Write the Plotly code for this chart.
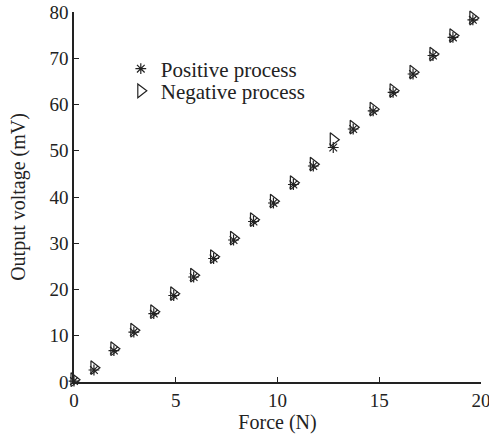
import plotly.graph_objects as go

force = [0, 0.98, 1.96, 2.94, 3.92, 4.9, 5.88, 6.86, 7.84, 8.82, 9.8,
         10.78, 11.76, 12.74, 13.72, 14.7, 15.68, 16.66, 17.64, 18.62, 19.6]
positive_mv = [0.2, 2.6, 6.8, 10.8, 14.8, 18.7, 22.7, 26.7, 30.7, 34.7, 38.7,
               42.7, 46.7, 50.7, 54.7, 58.6, 62.6, 66.6, 70.6, 74.5, 78.3]
negative_mv = [0.5, 3.1, 7.2, 11.2, 15.2, 19.1, 23.1, 27.1, 31.1, 35.1, 39.1,
               43.1, 47.1, 52.4, 55.1, 59.0, 63.0, 67.0, 70.9, 74.9, 78.7]

x_ticks = [0, 5, 10, 15, 20]
y_ticks = [0, 10, 20, 30, 40, 50, 60, 70, 80]

ink = "#222222"
font = "Liberation Serif, Times New Roman, serif"

fig = go.Figure()
fig.add_trace(go.Scatter(
    x=force, y=positive_mv, mode="markers", name="Positive process",
    marker=dict(symbol="asterisk-open", size=9, color=ink,
                line=dict(color=ink, width=1.2)),
    cliponaxis=False, legend="legend",
))
fig.add_trace(go.Scatter(
    x=force, y=negative_mv, mode="markers", name="Negative process",
    marker=dict(symbol="triangle-right-open", size=12, color=ink,
                line=dict(color=ink, width=1.2)),
    cliponaxis=False, legend="legend2",
))

axis_common = dict(
    showline=True, linecolor=ink, linewidth=1.5, ticks="inside", ticklen=5,
    tickcolor=ink, tickwidth=1.2, showgrid=False, zeroline=False,
    tickfont=dict(family=font, size=19, color=ink),
    mirror=False, ticklabeloverflow="allow", automargin=True,
)

legend_common = dict(xanchor="left", yanchor="middle", bgcolor="rgba(0,0,0,0)",
                     font=dict(family=font, size=21, color=ink), itemsizing="trace")

fig.update_layout(
    width=489, height=446,
    margin=dict(l=74, r=8, t=12, b=64, autoexpand=False),
    paper_bgcolor="white", plot_bgcolor="white",
    font=dict(family=font, size=20, color=ink),
    showlegend=True,
    legend=dict(x=0.115, y=0.846, **legend_common),
    legend2=dict(x=0.115, y=0.786, **legend_common),
    xaxis=dict(range=[0, 20], tickvals=x_ticks, ticktext=[str(v) for v in x_ticks],
               title=dict(text="Force (N)", font=dict(family=font, size=20, color=ink),
                          standoff=4),
               **axis_common),
    yaxis=dict(range=[0, 80], tickvals=y_ticks, ticktext=[str(v) for v in y_ticks],
               title=dict(text="Output voltage (mV)", font=dict(family=font, size=20, color=ink),
                          standoff=18),
               **axis_common),
)

fig.write_html("out.html")
